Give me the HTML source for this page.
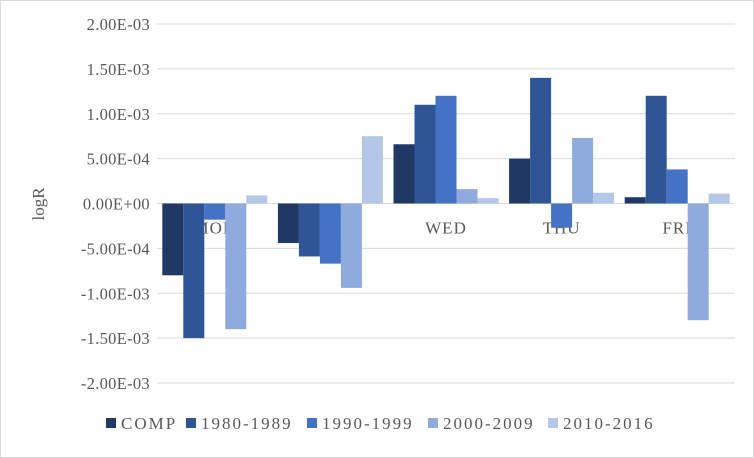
<!DOCTYPE html>
<html><head><meta charset="utf-8"><style>
body{margin:0;background:#fff;}
svg{display:block;font-family:"Liberation Serif",serif;}
</style></head><body>
<svg id="chart" width="754" height="458">
<rect x="0.5" y="0.5" width="753" height="457" fill="#fff" stroke="#d9d9d9"/>
<g id="grid"></g><g id="ylabels"></g><g id="xlabels"></g><g id="bars"></g><g id="legend"></g>
<text x="44" y="204" font-size="17" fill="#595959" text-anchor="middle" transform="rotate(-90 44 204)">logR</text>
</svg>
<script>
const categories=["MON","TUE","WED","THU","FRI"];
const seriesNames=["COMP","1980-1989","1990-1999","2000-2009","2010-2016"];
const comp=[-0.00080,-0.00044,0.00066,0.00050,0.00007];
const s1980=[-0.00150,-0.00059,0.00110,0.00140,0.00120];
const s1990=[-0.00018,-0.00067,0.00120,-0.00027,0.00038];
const s2000=[-0.00140,-0.00094,0.00016,0.00073,-0.00130];
const s2010=[0.00009,0.00075,0.00006,0.00012,0.00011];
const yTicks=[0.002,0.0015,0.001,0.0005,0,-0.0005,-0.001,-0.0015,-0.002];
const yTickLabels=["2.00E-03","1.50E-03","1.00E-03","5.00E-04","0.00E+00","-5.00E-04","-1.00E-03","-1.50E-03","-2.00E-03"];
const colors=["#203864","#2F5597","#4472C4","#8FAADC","#B4C7E7"];
const series=[comp,s1980,s1990,s2000,s2010];
const NS="http://www.w3.org/2000/svg";
const x0=157,x1=735,yTop=24,yBot=383;
const y=v=>yTop+(0.002-v)/0.004*(yBot-yTop);
const bandW=(x1-x0)/categories.length;
const barW=21;
function mk(tag,attrs,parent){const e=document.createElementNS(NS,tag);for(const k in attrs)e.setAttribute(k,attrs[k]);parent.appendChild(e);return e;}
const grid=document.getElementById('grid'),yl=document.getElementById('ylabels'),xl=document.getElementById('xlabels'),bars=document.getElementById('bars'),lg=document.getElementById('legend');
yTicks.forEach((t,i)=>{
 const l=mk('line',{x1:x0,x2:x1,y1:y(t),y2:y(t),stroke:'#d9d9d9','stroke-width':1},grid);
 
 
 const tx=mk('text',{x:150,y:y(t)+6,'font-size':16.5,fill:'#595959','text-anchor':'end','letter-spacing':0.3},yl);
 tx.textContent=yTickLabels[i];
 
 
});
categories.forEach((c,i)=>{
 const cx=x0+bandW*(i+0.5);
 const tx=mk('text',{x:cx,y:y(0)+30,'font-size':17,fill:'#595959','text-anchor':'middle','letter-spacing':1},xl);
 tx.textContent=c;
 
 
 series.forEach((s,j)=>{
  const v=s[i];
  const bx=cx-barW*2.5+j*barW;
  const r=mk('rect',{x:bx,y:Math.min(y(v),y(0)),width:barW,height:Math.abs(y(v)-y(0)),fill:colors[j]},bars);
  
  
 });
});
const lx=[106,186,307,428,548];
seriesNames.forEach((n,j)=>{
 const r=mk('rect',{x:lx[j],y:418,width:10,height:10,fill:colors[j]},lg);
 
 
 const t=mk('text',{x:lx[j]+15,y:429,'font-size':17,fill:'#595959','letter-spacing':2},lg);
 t.textContent=n;
 
 
});
</script>
</body></html>
